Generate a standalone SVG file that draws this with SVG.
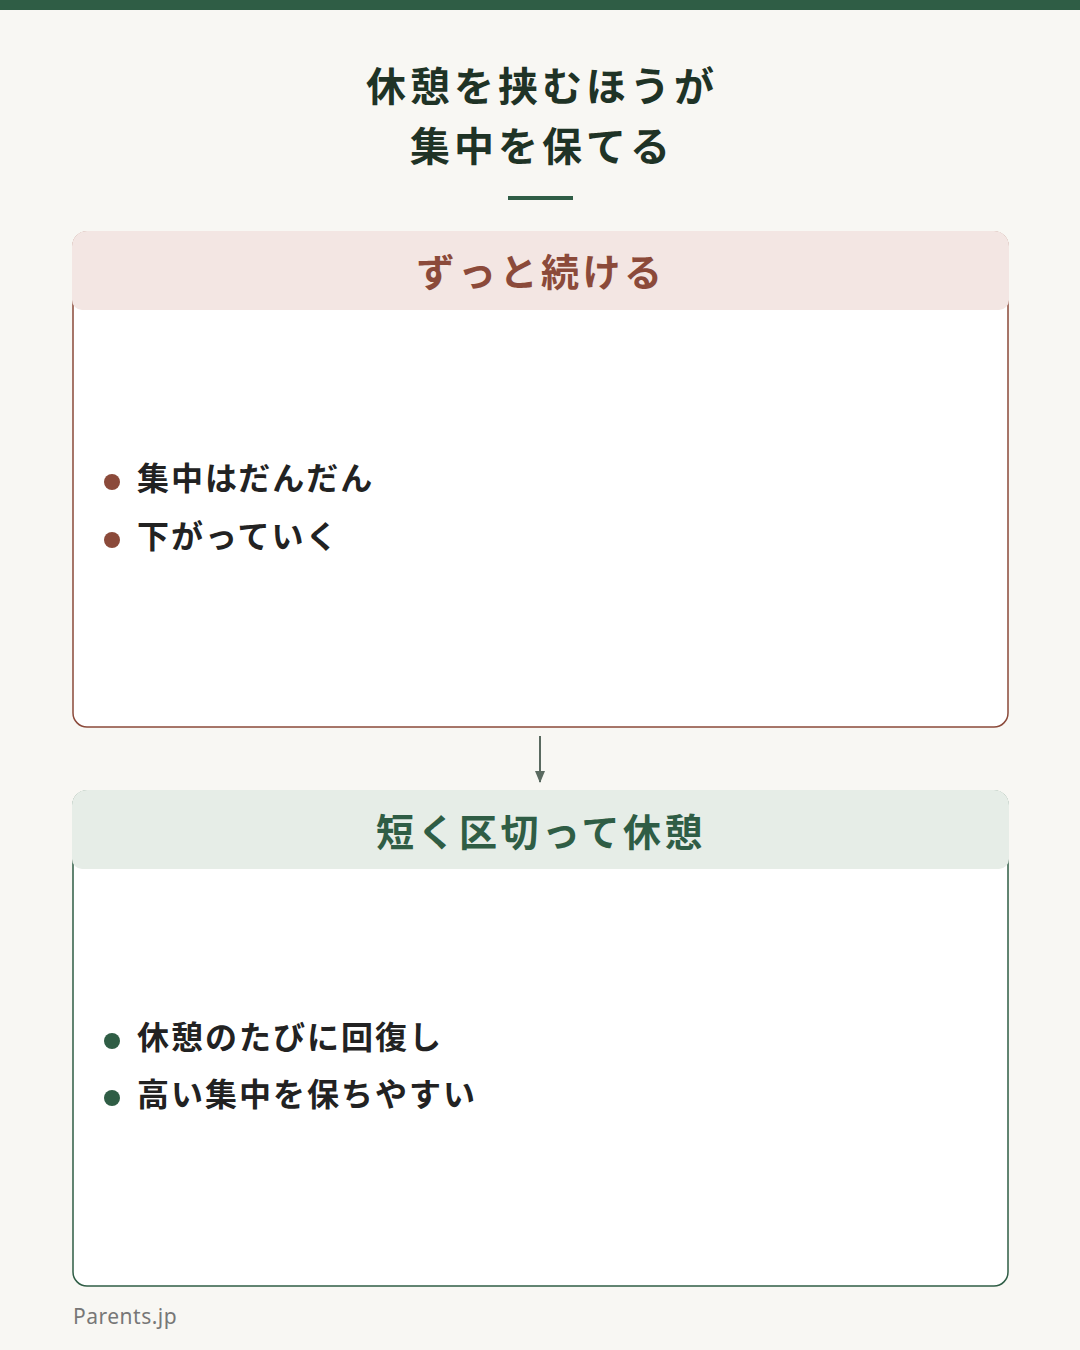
<svg xmlns="http://www.w3.org/2000/svg" width="1080" height="1350" viewBox="0 0 1080 1350">
<style>
text{font-family:"Noto Sans CJK JP","Noto Sans",sans-serif}
.t{font-size:40px;font-weight:700;fill:#1f3326;text-anchor:middle;letter-spacing:4px}
.h{font-size:38px;font-weight:700;text-anchor:middle;letter-spacing:3.5px}
.b{font-size:32px;font-weight:700;fill:#222;letter-spacing:2px}
</style>
<defs><marker id="a" markerWidth="12" markerHeight="10" refX="11" refY="5" orient="auto" markerUnits="userSpaceOnUse"><path d="M0,0L12,5L0,10z" fill="#5a6a60"/></marker></defs>
<rect width="1080" height="1350" fill="#f8f7f3"/>
<rect width="1080" height="10" fill="#2f5d45"/>
<g id="title">
<text class="t" x="542" y="101">休憩を挟むほうが</text>
<text class="t" x="542" y="161">集中を保てる</text>
<rect x="508" y="196" width="65" height="4" fill="#2f5d45"/>
</g>
<g id="box1">
<rect x="73" y="232" width="935" height="495" rx="14" fill="#fff" stroke="#8b4a3a" stroke-width="1.5"/>
<path d="M72,246a15,15 0 0 1 15,-15h907a15,15 0 0 1 15,15v54a10,10 0 0 1 -10,10h-917a10,10 0 0 1 -10,-10z" fill="#f3e6e3"/>
<text class="h" x="541" y="286" fill="#8b4a3a">ずっと続ける</text>
<circle cx="112" cy="482" r="8" fill="#8b4a3a"/>
<text class="b" x="137" y="490">集中はだんだん</text>
<circle cx="112" cy="540" r="8" fill="#8b4a3a"/>
<text class="b" x="137" y="548">下がっていく</text>
</g>
<g id="connectors">
<line x1="540" y1="736" x2="540" y2="782" stroke="#5a6a60" stroke-width="2" marker-end="url(#a)"/>
</g>
<g id="box2">
<rect x="73" y="791" width="935" height="495" rx="14" fill="#fff" stroke="#2f5d45" stroke-width="1.5"/>
<path d="M72,805a15,15 0 0 1 15,-15h907a15,15 0 0 1 15,15v54a10,10 0 0 1 -10,10h-917a10,10 0 0 1 -10,-10z" fill="#e6ede7"/>
<text class="h" x="541" y="846" fill="#2f5d45">短く区切って休憩</text>
<circle cx="112" cy="1041" r="8" fill="#2f5d45"/>
<text class="b" x="137" y="1049">休憩のたびに回復し</text>
<circle cx="112" cy="1098" r="8" fill="#2f5d45"/>
<text class="b" x="137" y="1106">高い集中を保ちやすい</text>
</g>
<text x="73" y="1324" font-size="21" fill="#777" letter-spacing="0.5" style="font-family:'Noto Sans',sans-serif">Parents.jp</text>
</svg>
